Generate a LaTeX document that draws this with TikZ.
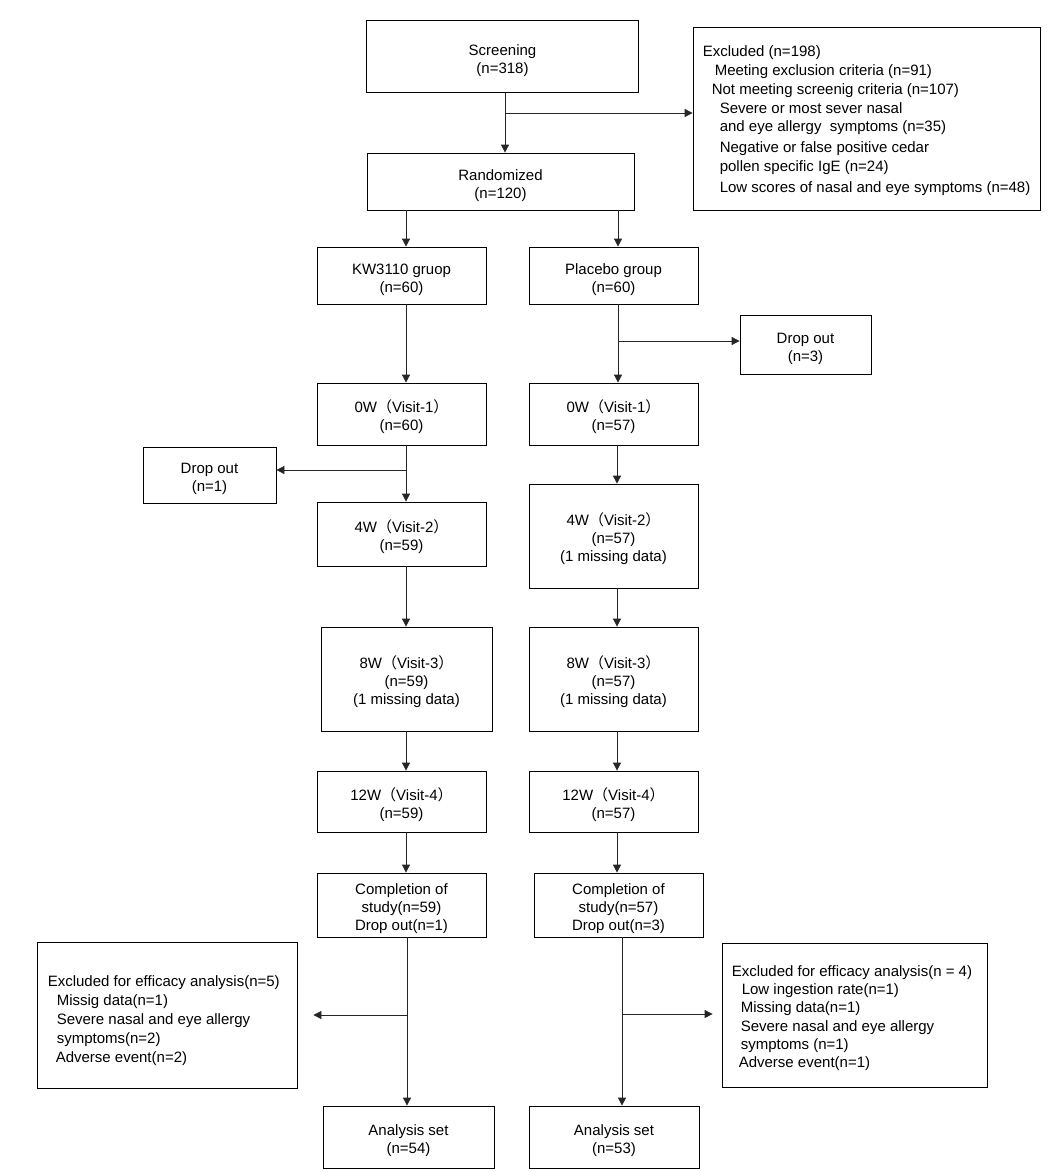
\documentclass[tikz,border=0pt]{standalone}
\usepackage{fontspec}
\setmainfont{Liberation Sans}
\newfontfamily\cjkfont{Noto Sans CJK SC}
\usetikzlibrary{arrows.meta}
\newcommand{\fwl}{{\cjkfont （}}
\newcommand{\fwr}{{\cjkfont ）}}
\newcommand{\tstrut}{\rule{0pt}{19pt}}
\begin{document}
\begin{tikzpicture}[x=1pt,y=-1pt,
  box/.style={draw=black, line width=0.8pt, align=center, inner sep=0pt,
              font=\fontsize{15}{18}\selectfont},
  frame/.style={draw=black, line width=0.8pt, inner sep=0pt},
  listtxt/.style={align=left, inner sep=0pt, font=\fontsize{15}{18.7}\selectfont},
  arr/.style={draw=black!85, line width=0.8pt, -{Triangle[length=8pt,width=8pt]}}]
\fill[white] (0,0) rectangle (1061,1172);
\useasboundingbox (0,0) rectangle (1061,1172);

% top
\node[box, minimum width=272pt, minimum height=72pt] (scr) at (502.5,56.5) {\tstrut Screening\\(n=318)};
\node[box, minimum width=267pt, minimum height=57pt] (rand) at (500.5,181.5) {\tstrut Randomized\\(n=120)};
\node[frame, minimum width=347pt, minimum height=183pt] (excl) at (866.5,118.5) {};
\node[listtxt, anchor=west] (exclt) at ([xshift=10pt,yshift=-2.5pt]excl.west) {Excluded (n=198)\\
\hspace*{12pt}Meeting exclusion criteria (n=91)\\
\hspace*{9pt}Not meeting screenig criteria (n=107)\\
\hspace*{17pt}Severe or most sever nasal\\
\hspace*{17pt}and eye allergy\ \ symptoms (n=35)\\[2pt]
\hspace*{17pt}Negative or false positive cedar\\
\hspace*{17pt}pollen specific IgE (n=24)\\[3pt]
\hspace*{17pt}Low scores of nasal and eye symptoms (n=48)};

% groups
\node[box, minimum width=169pt, minimum height=57pt] (kw) at (401.5,275.5) {\tstrut KW3110 gruop\\(n=60)};
\node[box, minimum width=169pt, minimum height=57pt] (plc) at (613.5,275.5) {\tstrut Placebo group\\(n=60)};
\node[box, minimum width=131pt, minimum height=59pt] (drop3) at (805.5,344.5) {\tstrut Drop out\\(n=3)};

% visits
\node[box, minimum width=169pt, minimum height=62pt] (l0) at (401.5,414) {\tstrut 0W\fwl Visit-1\fwr\\(n=60)};
\node[box, minimum width=169pt, minimum height=62pt] (r0) at (613.5,414) {\tstrut 0W\fwl Visit-1\fwr\\(n=57)};
\node[box, minimum width=133pt, minimum height=56pt] (drop1) at (209.5,475) {\tstrut Drop out\\(n=1)};
\node[box, minimum width=169pt, minimum height=64pt] (l4) at (401.5,534) {\tstrut 4W\fwl Visit-2\fwr\\(n=59)};
\node[box, minimum width=169pt, minimum height=104pt] (r4) at (613.5,536) {\tstrut 4W\fwl Visit-2\fwr\\(n=57)\\(1 missing data)};
\node[box, minimum width=171pt, minimum height=104pt] (l8) at (406.5,679) {\tstrut 8W\fwl Visit-3\fwr\\(n=59)\\(1 missing data)};
\node[box, minimum width=169pt, minimum height=104pt] (r8) at (613.5,679) {\tstrut 8W\fwl Visit-3\fwr\\(n=57)\\(1 missing data)};
\node[box, minimum width=169pt, minimum height=61pt] (l12) at (401.5,801.5) {\tstrut 12W\fwl Visit-4\fwr\\(n=59)};
\node[box, minimum width=169pt, minimum height=61pt] (r12) at (613.5,801.5) {\tstrut 12W\fwl Visit-4\fwr\\(n=57)};
\node[box, minimum width=169pt, minimum height=64pt] (lc) at (401.5,905) {\tstrut Completion of\\study(n=59)\\Drop out(n=1)};
\node[box, minimum width=169pt, minimum height=64pt] (rc) at (618.5,905) {\tstrut Completion of\\study(n=57)\\Drop out(n=3)};

% efficacy exclusions
\node[frame, minimum width=260pt, minimum height=146pt] (lex) at (167,1015) {};
\node[listtxt, anchor=west, font=\fontsize{15}{19}\selectfont] (lext) at ([xshift=11pt,yshift=-6pt]lex.west) {Excluded for efficacy analysis(n=5)\\
\hspace*{9pt}Missig data(n=1)\\
\hspace*{9pt}Severe nasal and eye allergy\\
\hspace*{9pt}symptoms(n=2)\\
\hspace*{8pt}Adverse event(n=2)};
\node[frame, minimum width=265pt, minimum height=144pt] (rex) at (854.5,1015) {};
\node[listtxt, anchor=west, font=\fontsize{15}{18.3}\selectfont] (rext) at ([xshift=10pt,yshift=-3pt]rex.west) {Excluded for efficacy analysis(n = 4)\\
\hspace*{10pt}Low ingestion rate(n=1)\\
\hspace*{9pt}Missing data(n=1)\\
\hspace*{9pt}Severe nasal and eye allergy\\
\hspace*{9pt}symptoms (n=1)\\
\hspace*{7pt}Adverse event(n=1)};

% analysis sets
\node[box, minimum width=171pt, minimum height=62pt] (la) at (408.5,1137) {\tstrut Analysis set\\(n=54)};
\node[box, minimum width=170pt, minimum height=62pt] (ra) at (614,1137) {\tstrut Analysis set\\(n=53)};

% junction coordinates
\coordinate (j1) at (505,113);
\coordinate (xL) at (406,0);
\coordinate (xR) at (618,0);
\coordinate (b3) at (618,341);
\coordinate (b1) at (406,470);
\coordinate (xR2) at (617,0);
\coordinate (bl) at (407,1015);
\coordinate (br) at (622,1014);
\coordinate (lexa) at ([xshift=16pt]lex.east);
\coordinate (rexa) at ([xshift=-9pt]rex.west);

% connectors
\draw[arr] (scr.south -| j1) -- (rand.north -| j1);
\draw[arr] (j1) -- (excl.west |- j1);
\draw[arr] (rand.south -| xL) -- (kw.north -| xL);
\draw[arr] (rand.south -| xR) -- (plc.north -| xR);
\draw[arr] (kw.south -| xL) -- (l0.north -| xL);
\draw[arr] (plc.south -| xR) -- (r0.north -| xR);
\draw[arr] (b3) -- (drop3.west |- b3);
\draw[arr] (l0.south -| xL) -- (l4.north -| xL);
\draw[arr] (b1) -- (drop1.east |- b1);
\draw[arr] (r0.south -| xR2) -- (r4.north -| xR2);
\draw[arr] (l4.south -| xL) -- (l8.north -| xL);
\draw[arr] (r4.south -| xR2) -- (r8.north -| xR2);
\draw[arr] (l8.south -| xL) -- (l12.north -| xL);
\draw[arr] (r8.south -| xR2) -- (r12.north -| xR2);
\draw[arr] (l12.south -| xL) -- (lc.north -| xL);
\draw[arr] (r12.south -| xR2) -- (rc.north -| xR2);
\draw[arr] (lc.south -| bl) -- (la.north -| bl);
\draw[arr] (bl) -- (lexa |- bl);
\draw[arr] (rc.south -| br) -- (ra.north -| br);
\draw[arr] (br) -- (rexa |- br);
\end{tikzpicture}
\end{document}
